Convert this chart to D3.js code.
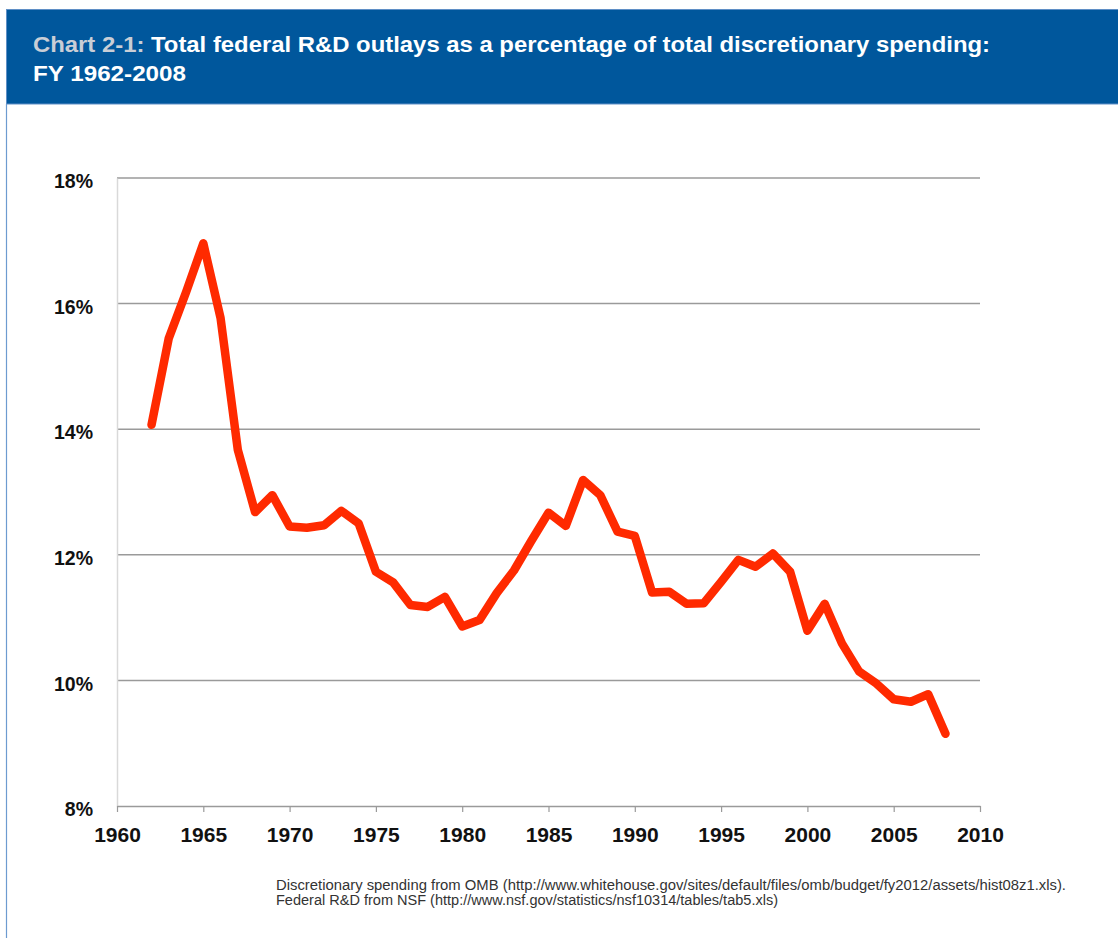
<!DOCTYPE html>
<html>
<head>
<meta charset="utf-8">
<script src="https://cdn.jsdelivr.net/npm/d3@7"></script>
<style>
  body { margin: 0; background: #fff; }
  svg { display: block; }
</style>
</head>
<body>
<div id="chart"></div>
<script>
// Chart data
const years = [1962, 1963, 1964, 1965, 1966, 1967, 1968, 1969, 1970, 1971, 1972, 1973, 1974,
  1975, 1976, 1977, 1978, 1979, 1980, 1981, 1982, 1983, 1984, 1985, 1986, 1987, 1988, 1989,
  1990, 1991, 1992, 1993, 1994, 1995, 1996, 1997, 1998, 1999, 2000, 2001, 2002, 2003, 2004,
  2005, 2006, 2007, 2008];
const rdShare = [14.07, 15.45, 16.18, 16.96, 15.77, 13.67, 12.68, 12.95, 12.45, 12.43, 12.47,
  12.70, 12.50, 11.73, 11.56, 11.20, 11.17, 11.33, 10.86, 10.96, 11.39, 11.75, 12.22, 12.67,
  12.46, 13.19, 12.95, 12.37, 12.30, 11.40, 11.41, 11.22, 11.23, 11.57, 11.92, 11.81, 12.02,
  11.73, 10.79, 11.22, 10.59, 10.14, 9.95, 9.70, 9.66, 9.78, 9.15];
const yTicks = [8, 10, 12, 14, 16, 18];
const xTicks = [1960, 1965, 1970, 1975, 1980, 1985, 1990, 1995, 2000, 2005, 2010];

const titleLabel = "Chart 2-1:";
const titleLine1 = " Total federal R&D outlays as a percentage of total discretionary spending:";
const titleLine2 = "FY 1962-2008";
const notes = [
  "Discretionary spending from OMB (http://www.whitehouse.gov/sites/default/files/omb/budget/fy2012/assets/hist08z1.xls).",
  "Federal R&D from NSF (http://www.nsf.gov/statistics/nsf10314/tables/tab5.xls)"
];

const W = 1118, H = 938;
const margin = { top: 178, right: 138, bottom: 132, left: 117 };
const width = W - margin.left - margin.right;
const height = H - margin.top - margin.bottom;
const font = "'Liberation Sans', Arial, Helvetica, sans-serif";

const svg = d3.select("#chart")
  .append("svg")
  .attr("width", W)
  .attr("height", H)
  .style("font-family", font);

// Header band
svg.append("rect")
  .attr("x", 6.5).attr("y", 9.5)
  .attr("width", W).attr("height", 94.5)
  .attr("fill", "#00579c")
  .attr("stroke", "#5f8fc6")
  .attr("stroke-width", 1);

// Panel left border
svg.append("line")
  .attr("x1", 6.5).attr("x2", 6.5)
  .attr("y1", 104).attr("y2", H)
  .attr("stroke", "#6d9bd0")
  .attr("stroke-width", 1.2);

const title = svg.append("text")
  .attr("x", 33).attr("y", 52)
  .attr("font-size", 22.5)
  .attr("font-weight", "bold")
  .attr("fill", "#fff")
  .attr("textLength", 957)
  .attr("lengthAdjust", "spacingAndGlyphs");
title.append("tspan").attr("fill", "#c9ced6").text(titleLabel);
title.append("tspan").text(titleLine1);

svg.append("text")
  .attr("x", 33).attr("y", 81)
  .attr("font-size", 22.5)
  .attr("font-weight", "bold")
  .attr("fill", "#fff")
  .attr("textLength", 153)
  .attr("lengthAdjust", "spacingAndGlyphs")
  .text(titleLine2);

const g = svg.append("g")
  .attr("transform", `translate(${margin.left},${margin.top})`);

// Scales
const x = d3.scaleLinear().domain([1960, 2010]).range([0, width]);
const y = d3.scaleLinear().domain([8, 18]).range([height, 0]);

// Gridlines
g.append("g")
  .selectAll("line")
  .data(yTicks.filter(d => d > 8))
  .join("line")
  .attr("x1", 0).attr("x2", width)
  .attr("y1", d => y(d)).attr("y2", d => y(d))
  .attr("stroke", "#9a9a9a")
  .attr("stroke-width", 1.5);

// Y axis
const yAxis = g.append("g")
  .call(d3.axisLeft(y).tickValues(yTicks).tickFormat(d => d + "%").tickSize(0).tickPadding(24));
yAxis.select(".domain").attr("stroke", "#d9d9d9").attr("stroke-width", 1.5);
yAxis.selectAll("text")
  .attr("font-size", 19.5)
  .attr("font-weight", "bold")
  .attr("fill", "#111")
  .attr("dy", "0.5em")
  .attr("font-family", font);

// X axis
const xAxis = g.append("g")
  .attr("transform", `translate(0,${height})`)
  .call(d3.axisBottom(x).tickValues(xTicks).tickFormat(d3.format("d")).tickSize(6).tickSizeOuter(0).tickPadding(15));
xAxis.select(".domain").attr("stroke", "#9a9a9a").attr("stroke-width", 1.5);
xAxis.selectAll(".tick line").attr("stroke", "#9a9a9a").attr("stroke-width", 1.2);
xAxis.selectAll("text")
  .attr("font-size", 21)
  .attr("font-weight", "bold")
  .attr("fill", "#111")
  .attr("font-family", font);

// Line
const series = years.map((yr, i) => ({ year: yr, value: rdShare[i] }));
g.append("path")
  .datum(series)
  .attr("fill", "none")
  .attr("stroke", "#ff2a00")
  .attr("stroke-width", 8.5)
  .attr("stroke-linejoin", "round")
  .attr("stroke-linecap", "round")
  .attr("d", d3.line().x(d => x(d.year)).y(d => y(d.value)));

// Source notes
const noteWidths = [790, 502];
svg.append("g")
  .selectAll("text")
  .data(notes)
  .join("text")
  .attr("x", 276)
  .attr("y", (d, i) => 890 + i * 14.5)
  .attr("font-size", 14)
  .attr("fill", "#333")
  .attr("textLength", (d, i) => noteWidths[i])
  .attr("lengthAdjust", "spacingAndGlyphs")
  .text(d => d);
</script>
</body>
</html>
